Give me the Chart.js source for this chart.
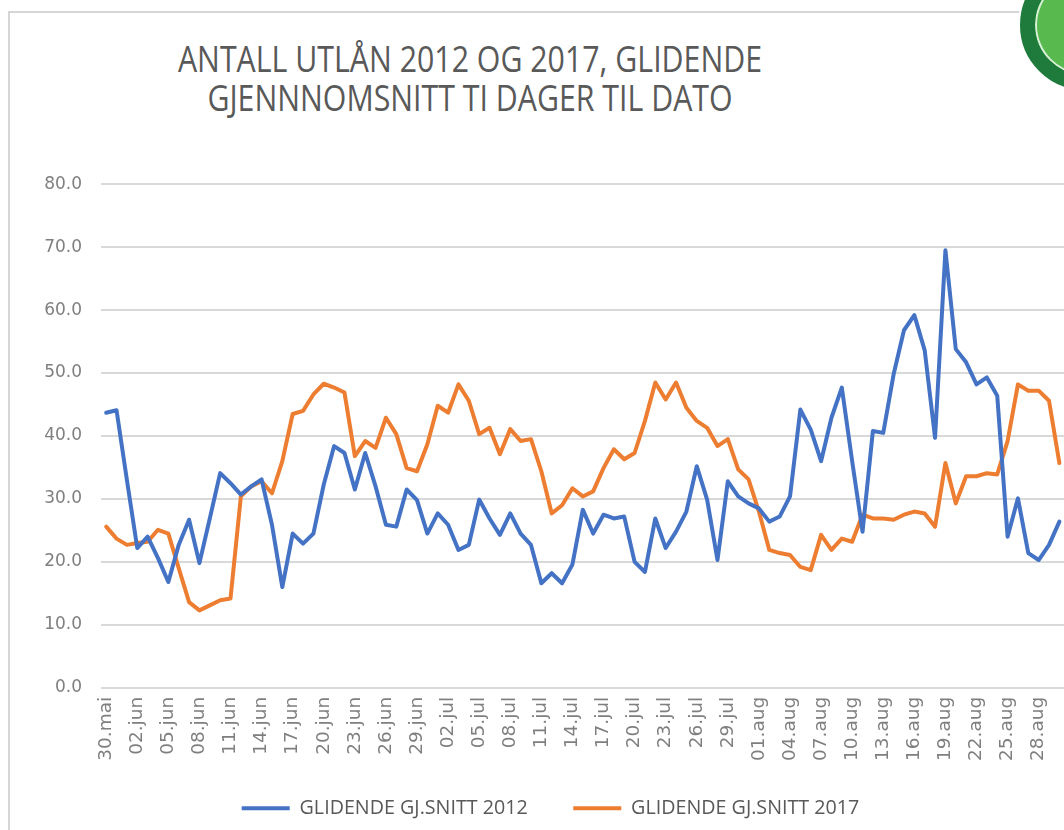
<!DOCTYPE html>
<html lang="no">
<head>
<meta charset="utf-8">
<title>Antall utlån 2012 og 2017</title>
<script src="https://cdn.jsdelivr.net/npm/chart.js@4.4.0/dist/chart.umd.min.js"></script>
<style>
  html, body { margin: 0; padding: 0; background: #fff; }
  body { width: 1064px; height: 830px; overflow: hidden; position: relative; }
  #frame {
    position: absolute; left: 8px; top: 11px; width: 1200px; height: 1000px;
    border-left: 2px solid #d6d6d6; border-top: 2px solid #d6d6d6;
  }
  #title {
    position: absolute; left: 0; top: 38px; width: 940px;
    text-align: center; font-family: "Open Sans", sans-serif; font-size: 30.3px;
    line-height: 33px; color: #595959; transform: scaleY(1.2); transform-origin: top;
  }
  #logo {
    position: absolute; left: 1020px; top: -40px; width: 100px; height: 100px;
    border-radius: 50%; background: #58b94f; border: 15px solid #1e7b3b;
    box-shadow: 0 0 0 2px #ffffff, inset 0 0 0 2px #d8efd8;
  }
  #chart { position: absolute; left: 0; top: 155px; }
</style>
</head>
<body>
<div id="frame"></div>
<div id="logo"></div>
<div id="title">ANTALL UTLÅN 2012 OG 2017, GLIDENDE<br>GJENNNOMSNITT TI DAGER TIL DATO</div>
<canvas id="chart" width="1070" height="695"></canvas>
<script>
// ------------------------------------------------------------
//  Data
// ------------------------------------------------------------
const DAYS = [
  '30.mai', '31.mai',
  '01.jun', '02.jun', '03.jun', '04.jun', '05.jun', '06.jun', '07.jun', '08.jun', '09.jun', '10.jun',
  '11.jun', '12.jun', '13.jun', '14.jun', '15.jun', '16.jun', '17.jun', '18.jun', '19.jun', '20.jun',
  '21.jun', '22.jun', '23.jun', '24.jun', '25.jun', '26.jun', '27.jun', '28.jun', '29.jun', '30.jun',
  '01.jul', '02.jul', '03.jul', '04.jul', '05.jul', '06.jul', '07.jul', '08.jul', '09.jul', '10.jul',
  '11.jul', '12.jul', '13.jul', '14.jul', '15.jul', '16.jul', '17.jul', '18.jul', '19.jul', '20.jul',
  '21.jul', '22.jul', '23.jul', '24.jul', '25.jul', '26.jul', '27.jul', '28.jul', '29.jul', '30.jul', '31.jul',
  '01.aug', '02.aug', '03.aug', '04.aug', '05.aug', '06.aug', '07.aug', '08.aug', '09.aug', '10.aug',
  '11.aug', '12.aug', '13.aug', '14.aug', '15.aug', '16.aug', '17.aug', '18.aug', '19.aug', '20.aug',
  '21.aug', '22.aug', '23.aug', '24.aug', '25.aug', '26.aug', '27.aug', '28.aug', '29.aug', '30.aug'
];

const SNITT_2012 = [
  43.7, 44.1, 33.0, 22.2, 24.0, 20.6, 16.8, 22.7, 26.7, 19.8,
  26.9, 34.1, 32.5, 30.7, 32.0, 33.1, 25.9, 16.0, 24.5, 22.9,
  24.5, 32.3, 38.4, 37.3, 31.5, 37.3, 32.0, 25.9, 25.6, 31.5,
  29.8, 24.5, 27.7, 25.9, 21.9, 22.7, 29.9, 26.9, 24.3, 27.7,
  24.5, 22.7, 16.6, 18.2, 16.6, 19.6, 28.3, 24.5, 27.5, 26.9,
  27.2, 20.0, 18.4, 26.9, 22.2, 24.8, 28.0, 35.2, 29.9, 20.3,
  32.8, 30.4, 29.3, 28.5, 26.4, 27.2, 30.4, 44.2, 41.0, 36.0,
  42.9, 47.7, 36.0, 24.8, 40.8, 40.5, 49.8, 56.8, 59.2, 53.6,
  39.7, 69.5, 53.8, 51.7, 48.2, 49.3, 46.4, 24.0, 30.1, 21.4,
  20.3, 22.7, 26.4
];

const SNITT_2017 = [
  25.6, 23.7, 22.7, 23.0, 23.2, 25.1, 24.5, 19.0, 13.6, 12.3,
  13.1, 13.9, 14.2, 30.4, 32.0, 32.8, 30.9, 36.0, 43.5, 44.0,
  46.6, 48.3, 47.7, 46.9, 36.8, 39.2, 38.1, 42.9, 40.3, 34.9,
  34.4, 38.7, 44.8, 43.7, 48.2, 45.6, 40.3, 41.3, 37.1, 41.1,
  39.2, 39.5, 34.4, 27.7, 29.0, 31.7, 30.4, 31.2, 34.9, 37.9,
  36.3, 37.3, 42.4, 48.5, 45.8, 48.5, 44.5, 42.4, 41.3, 38.4,
  39.5, 34.7, 33.1, 28.0, 21.9, 21.4, 21.1, 19.2, 18.7, 24.3,
  21.9, 23.7, 23.2, 27.5, 26.9, 26.9, 26.7, 27.5, 28.0, 27.7,
  25.6, 35.7, 29.3, 33.6, 33.6, 34.1, 33.9, 39.2, 48.2, 47.2,
  47.2, 45.6, 35.7
];

const SERIES_NAMES = ['GLIDENDE GJ.SNITT 2012', 'GLIDENDE GJ.SNITT 2017'];

const COLORS = {
  blue:   '#4472c4',
  orange: '#ed7d31',
  grid:   '#d9d9d9',
  tick:   '#7f7f7f',
  text:   '#595959'
};

function lineDataset(label, data, color) {
  return {
    label,
    data,
    borderColor: color,
    backgroundColor: color,
    borderWidth: 4,
    borderJoinStyle: 'round',
    borderCapStyle: 'round',
    pointRadius: 0,
    tension: 0
  };
}

// Legenden: stor avstand mellom elementene, men skal ligge tett under aksen
// og litt til høyre for midten, som i originalen.
const legendShift = {
  id: 'legendShift',
  afterLayout(chart) {
    const lg = chart.legend;
    lg.left += 18;
    lg.right += 18;
    lg.top -= 20;
    lg.bottom -= 20;
  }
};

new Chart(document.getElementById('chart'), {
  type: 'line',
  data: {
    labels: DAYS,
    datasets: [
      lineDataset(SERIES_NAMES[0], SNITT_2012, COLORS.blue),
      lineDataset(SERIES_NAMES[1], SNITT_2017, COLORS.orange)
    ]
  },
  plugins: [legendShift],
  options: {
    responsive: false,
    animation: false,
    layout: { padding: { top: 18, right: 5, bottom: 2, left: 0 } },
    plugins: {
      title: { display: false },
      tooltip: { enabled: false },
      legend: {
        position: 'bottom',
        labels: {
          boxWidth: 48,
          boxHeight: 4,
          padding: 45.5,
          color: COLORS.text,
          font: { family: '"Open Sans", sans-serif', size: 19.7 },
          generateLabels: chart =>
            Chart.defaults.plugins.legend.labels.generateLabels(chart)
              .map(l => ({ ...l, lineWidth: 0 }))
        }
      }
    },
    scales: {
      x: {
        offset: true,
        grid: { display: false, drawTicks: false },
        border: { display: false },
        afterFit: s => { s.height = 85; },
        ticks: {
          autoSkip: false,
          minRotation: 90,
          maxRotation: 90,
          padding: 9,
          color: COLORS.tick,
          font: { family: '"DejaVu Sans", sans-serif', size: 18.5 },
          callback: (v, i) => (i % 3 === 0 ? DAYS[i] : null)
        }
      },
      y: {
        min: 0,
        max: 80,
        grid: { color: COLORS.grid, lineWidth: 2, drawTicks: false },
        border: { display: false },
        afterFit: s => { s.width = 101; },
        ticks: {
          stepSize: 10,
          padding: 19,
          color: COLORS.tick,
          font: { family: '"DejaVu Sans", sans-serif', size: 17 },
          callback: v => v.toFixed(1)
        }
      }
    }
  }
});
</script>
</body>
</html>
